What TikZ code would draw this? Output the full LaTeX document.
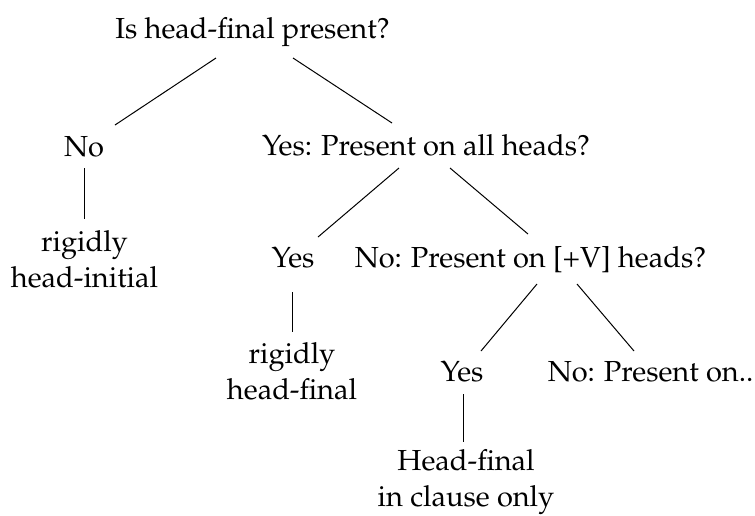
\documentclass[tikz,border=0pt]{standalone}
\usepackage[T1]{fontenc}
\usepackage{mathpazo}
\usetikzlibrary{calc}
\tikzset{
  lbl/.style={anchor=base, align=center, inner sep=0pt, font=\fontsize{14.5}{18}\selectfont},
  branch/.style={line width=0.5pt, draw=black}
}
\begin{document}
\begin{tikzpicture}[x=0.5pt, y=-0.5pt]
\useasboundingbox (0,0) rectangle (755,515);
% decision nodes (two-line nodes sit on the baseline of their last line)
\node[lbl] (root) at (252.5,38) {Is head-final present?};
\node[lbl] (no1)  at (84,156)   {No};
\node[lbl] (yes1) at (426,155)  {Yes: Present on all heads?};
\node[lbl] (ri)   at (84.5,287) {rigidly\\head-initial};
\node[lbl] (yes2) at (293,267)  {Yes};
\node[lbl] (no2)  at (530.5,267) {No: Present on [+V] heads?};
\node[lbl] (rf)   at (292,399)  {rigidly\\head-final};
\node[lbl] (yes3) at (462,381)  {Yes};
\node[lbl] (no3)  at (650.5,381) {No: Present on..};
\node[lbl] (hf)   at (466,506.5) {Head-final\\in clause only};
% branches
\draw[branch] ($(root.base)+(-36.5,20)$) -- ($(no1.base)+(31,-31)$);
\draw[branch] ($(root.base)+(40.5,20)$)  -- ($(yes1.base)+(-34,-32)$);
\draw[branch] ($(no1.base)+(0,12)$)      -- ($(ri.base)+(-0.5,-68)$);
\draw[branch] ($(yes1.base)+(-27,13)$)   -- ($(yes2.base)+(25,-30)$);
\draw[branch] ($(yes1.base)+(24,13)$)    -- ($(no2.base)+(-2.5,-33)$);
\draw[branch] ($(yes2.base)+(-1,25)$)    -- ($(rf.base)+(0,-67)$);
\draw[branch] ($(no2.base)+(6.5,17)$)    -- ($(yes3.base)+(19,-30)$);
\draw[branch] ($(no2.base)+(46.5,17)$)   -- ($(no3.base)+(-16.5,-30)$);
\draw[branch] ($(yes3.base)+(1,13)$)     -- ($(hf.base)+(-3,-64.5)$);
\end{tikzpicture}
\end{document}
